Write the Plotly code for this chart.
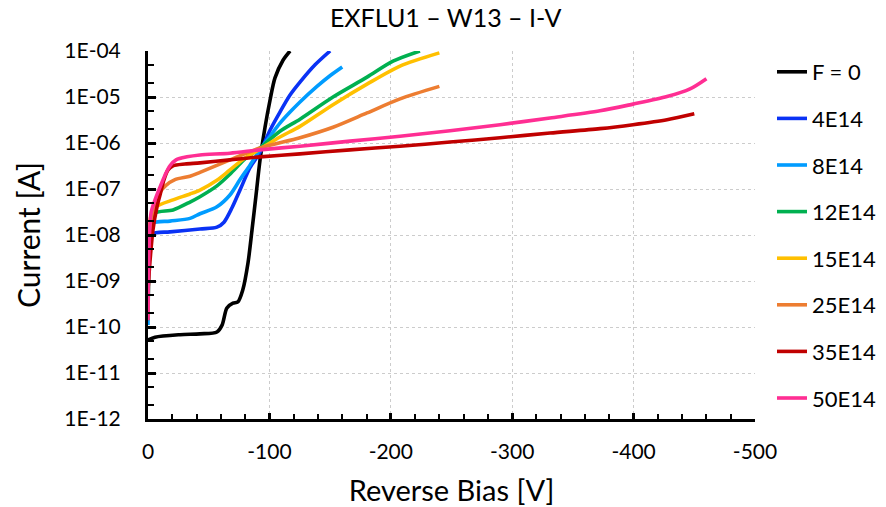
import plotly.graph_objects as go

names = ["F = 0", "4E14", "8E14", "12E14", "15E14", "25E14", "35E14", "50E14"]
colors = ["#000000", "#0A32F5", "#009CFF", "#00B050", "#FFC000", "#ED7D31", "#C00000", "#FF2E93"]

v_f0 = [0, -5.8, -26.4, -42.8, -56.8, -61, -65, -70, -74, -78, -82.4, -85.7, -89, -92.3, -96.4, -100.5, -104.6, -111.2, -117]
i_f0 = [5.2e-11, 6.0e-11, 6.8e-11, 7.1e-11, 7.8e-11, 1.1e-10, 2.6e-10, 3.3e-10, 3.5e-10, 6.3e-10, 2.5e-9, 1.3e-8, 7.4e-8, 4.3e-7, 2.2e-6, 8.5e-6, 2.6e-5, 6.3e-5, 1.0e-4]

v_4 = [-0.8, -3.3, -18.1, -42.8, -56.8, -62.6, -69.2, -75.8, -84.0, -92.3, -100.5, -108.7, -117, -125.2, -137.6, -150]
i_4 = [6.0e-9, 1.05e-8, 1.17e-8, 1.35e-8, 1.48e-8, 1.9e-8, 3.9e-8, 9.5e-8, 2.9e-7, 6.3e-7, 1.9e-6, 4.7e-6, 1.1e-5, 2.1e-5, 5.0e-5, 1.0e-4]

v_8 = [0, -1.6, -4.1, -18.1, -34.6, -42.8, -56.8, -67.5, -75.8, -84.0, -92.3, -100.5, -108.7, -117, -125.2, -139.2, -149.9, -160]
i_8 = [1.1e-10, 7.8e-9, 1.8e-8, 2.0e-8, 2.3e-8, 2.9e-8, 4.1e-8, 7.4e-8, 1.6e-7, 3.3e-7, 7.1e-7, 1.4e-6, 2.7e-6, 4.7e-6, 7.8e-6, 1.7e-5, 2.9e-5, 4.5e-5]

v_12 = [0, -2.5, -5.8, -20.6, -34.6, -42.8, -56.8, -67.5, -79.9, -92.3, -108.7, -125.2, -152.4, -180.4, -201.8, -224]
i_12 = [1.4e-10, 1.7e-8, 3.0e-8, 3.5e-8, 5.2e-8, 6.8e-8, 1.17e-7, 2.1e-7, 4.5e-7, 7.8e-7, 1.8e-6, 3.3e-6, 1.0e-5, 2.7e-5, 6.0e-5, 1.0e-4]

v_15 = [0, -2.5, -6.6, -20.6, -34.6, -42.8, -56.8, -67.5, -79.9, -92.3, -108.7, -125.2, -152.4, -180.4, -207.6, -240]
i_15 = [1.8e-10, 2.7e-8, 4.1e-8, 5.8e-8, 7.8e-8, 9.5e-8, 1.55e-7, 2.6e-7, 4.7e-7, 7.4e-7, 1.35e-6, 2.3e-6, 6.8e-6, 1.9e-5, 4.7e-5, 9.1e-5]

v_25 = [0, -2.5, -5.8, -9.9, -14.8, -22.2, -34.6, -42.8, -67.5, -92.3, -125.2, -152.4, -180.4, -207.6, -240]
i_25 = [1.6e-10, 2.1e-8, 4.5e-8, 8.5e-8, 1.2e-7, 1.6e-7, 1.9e-7, 2.3e-7, 4.3e-7, 7.8e-7, 1.3e-6, 2.2e-6, 4.5e-6, 9.1e-6, 1.7e-5]

v_35 = [0, -1.6, -4.1, -7.4, -9.9, -13.2, -16.5, -20.6, -30.5, -42.8, -67.5, -92.3, -125.2, -166.4, -207.6, -248.8, -290, -331.1, -372.3, -399.5, -427.5, -450]
i_35 = [6.3e-10, 2.6e-9, 1.3e-8, 4.1e-8, 7.4e-8, 1.6e-7, 2.6e-7, 3.2e-7, 3.5e-7, 3.7e-7, 4.3e-7, 5.0e-7, 5.8e-7, 7.1e-7, 8.5e-7, 1.05e-6, 1.3e-6, 1.65e-6, 2.05e-6, 2.5e-6, 3.2e-6, 4.3e-6]

v_50 = [0, -0.8, -2.5, -5.8, -9.9, -14.0, -18.1, -23.1, -32.1, -42.8, -67.5, -92.3, -125.2, -166.4, -207.6, -248.8, -290, -331.1, -372.3, -399.5, -427.5, -446.5, -460]
i_50 = [1.4e-10, 4.7e-9, 3.0e-8, 5.8e-8, 1.1e-7, 2.0e-7, 3.2e-7, 4.3e-7, 5.0e-7, 5.5e-7, 6.0e-7, 7.1e-7, 8.5e-7, 1.1e-6, 1.4e-6, 1.85e-6, 2.5e-6, 3.5e-6, 5.0e-6, 7.0e-6, 1.02e-5, 1.5e-5, 2.5e-5]

series_v = [v_f0, v_4, v_8, v_12, v_15, v_25, v_35, v_50]
series_i = [i_f0, i_4, i_8, i_12, i_15, i_25, i_35, i_50]

y_tickvals = [1e-12, 1e-11, 1e-10, 1e-9, 1e-8, 1e-7, 1e-6, 1e-5, 1e-4]
y_ticktext = ["1E-12", "1E-11", "1E-10", "1E-09", "1E-08", "1E-07", "1E-06", "1E-05", "1E-04"]
x_tickvals = [0, -100, -200, -300, -400, -500]
x_ticktext = ["0", "-100", "-200", "-300", "-400", "-500"]

FONT = "Lato, Calibri, Carlito, sans-serif"

fig = go.Figure()
for k in range(len(names)):
    fig.add_trace(go.Scatter(
        x=series_v[k], y=series_i[k], mode="lines", name=names[k],
        legendgroup=names[k],
        line=dict(color=colors[k], width=3.6, shape="spline", smoothing=0.8),
        cliponaxis=True,
    ))

fig.update_layout(
    width=886, height=507,
    margin=dict(l=148, r=131, t=51, b=88, autoexpand=False),
    paper_bgcolor="white", plot_bgcolor="white",
    font=dict(family=FONT, color="#000000", size=21),
    title=dict(text="EXFLU1 – W13 – I-V", x=0.503, xanchor="center", y=0.9645, yanchor="middle",
               font=dict(size=25, family=FONT, color="#000000")),
    showlegend=True,
    legend=dict(x=1.028, xanchor="left", y=1.0, yanchor="top",
                font=dict(size=22, family=FONT), tracegroupgap=15, maxheight=490,
                bgcolor="rgba(0,0,0,0)", itemwidth=30),
)

fig.update_xaxes(
    range=[0, -500], tickvals=x_tickvals, ticktext=x_ticktext, automargin=False,
    showline=True, linecolor="#000000", linewidth=2.5,
    ticks="inside", ticklen=6, tickwidth=2.5, tickcolor="#000000",
    minor=dict(dtick=20, ticks="inside", ticklen=5, tickwidth=2, tickcolor="#000000", showgrid=False),
    showgrid=True, gridcolor="#CCCCCC", griddash="dot", gridwidth=1,
    zeroline=False,
    tickfont=dict(size=21, family=FONT),
    ticklabelstandoff=12,
    title=dict(text="Reverse Bias [V]", font=dict(size=29, family=FONT), standoff=19),
)
fig.update_yaxes(
    type="log", range=[-12, -4], tickvals=y_tickvals, ticktext=y_ticktext, automargin=False,
    showline=True, linecolor="#000000", linewidth=3,
    ticks="inside", ticklen=8, tickwidth=3, tickcolor="#000000",
    minor=dict(ticks="inside", ticklen=6, tickwidth=2, tickcolor="#000000", showgrid=False),
    showgrid=True, gridcolor="#CCCCCC", griddash="dot", gridwidth=1,
    zeroline=False,
    tickfont=dict(size=21, family=FONT),
    ticklabelstandoff=20,
    title=dict(text="Current [A]", font=dict(size=30, family=FONT), standoff=15),
)

fig.write_html("out.html", config={"displayModeBar": False},
               post_script="document.body.style.margin='0';document.body.style.overflow='hidden';")
